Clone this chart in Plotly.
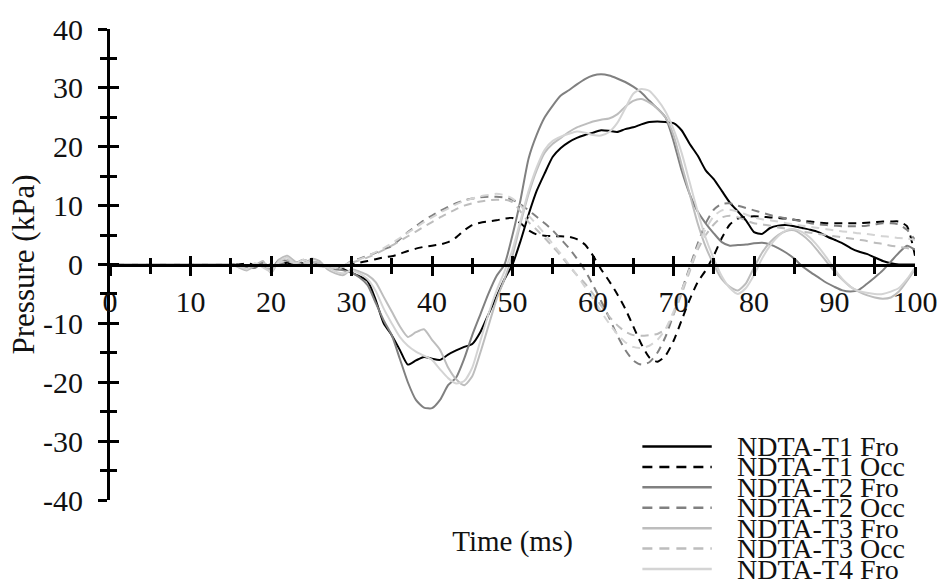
import plotly.graph_objects as go

# ---------------- data ----------------
time_ms = list(range(0, 101))

t1_fro = [0, 0, 0, 0, 0, 0, 0, 0, 0, 0, 0, 0, 0, 0, 0,
          0, -0.1, -0.3, 0, 0.2, -0.4, 0, 0.3, 0.1, 0.2, 0, -0.2, -0.3, -0.5, -0.8,
          -1.4, -2.0, -2.8, -6.0, -10.0, -12.0, -14.5, -17.0, -16.3, -15.7,
          -16.0, -16.2, -15.3, -14.6, -14.0, -13.5, -11.5, -8.5, -5.5, -2.5,
          0, 4, 8.5, 12.5, 15.5, 18.3, 19.8, 20.8, 21.5, 22,
          22.4, 22.8, 22.7, 22.5, 23, 23.3, 23.8, 24.2, 24.3, 24.2,
          24, 22.8, 20.5, 18.5, 16, 14.5, 12.5, 10.5, 9, 7.5,
          5.5, 5.2, 6.2, 6.6, 6.7, 6.5, 6.2, 5.9, 5.5, 4.8,
          4.2, 3.6, 2.8, 2.2, 1.8, 1.2, 0.6, 0.2, 0, 0, 0]

t1_occ = [0, 0, 0, 0, 0, 0, 0, 0, 0, 0, 0, 0, 0, 0, 0,
          0, 0, 0.2, 0, -0.2, 0, 0.3, 0.2, 0, 0.1, 0, -0.2, -0.4, -0.6, -0.3,
          0, 0.3, 0.6, 0.9, 1.2, 1.4, 1.8, 2.3, 2.7, 3.0,
          3.2, 3.4, 3.8, 4.6, 5.8, 6.7, 7.1, 7.3, 7.5, 7.8,
          7.9, 7.0, 5.8, 5.1, 4.9, 4.8, 4.8, 4.7, 4.3, 3.4,
          1.5, -0.8, -2.8, -5.0, -7.5, -10.5, -13.5, -15.8, -16.5, -15.5,
          -13.0, -9.5, -6.0, -3.0, -1.0, 1.5, 4.5, 6.8, 7.8, 8.1,
          8.2, 8.1, 8.0, 7.9, 7.8, 7.6, 7.4, 7.3, 7.1, 7.0,
          7.0, 7.0, 7.0, 7.0, 7.1, 7.2, 7.3, 7.3, 7.3, 6.5, 1.5]

t2_fro = [0, 0, 0, 0, 0, 0, 0, 0, 0, 0, 0, 0, 0, 0, 0,
          0.1, -0.2, -0.4, -0.6, 0.3, -0.8, 0.8, 0.6, 0.2, 0.8, 0.3, 0, -0.3, -0.8, -1.0,
          -1.4, -2.2, -3.5, -6.5, -9.5, -12.0, -16.0, -20.0, -23.0, -24.3,
          -24.4, -23.0, -20.5, -19.2, -16.0, -12.0, -8.5, -5.0, -2.0, 0,
          5, 11, 18, 22, 25, 27, 28.7, 29.6, 30.6, 31.5,
          32.1, 32.3, 32.1, 31.6, 31.0, 30.2, 29.2, 27.8, 26.5, 25.0,
          21, 16, 12, 9, 7, 5.3, 3.8, 3.2, 3.3, 3.4,
          3.6, 3.7, 3.4, 2.8, 2.0, 1.0, -0.3, -1.3, -2.2, -3.1,
          -3.8, -4.4, -4.6, -4.3, -3.3, -2.2, -1.0, 0.5, 2.0, 3.2, 2.5]

t2_occ = [0, 0, 0, 0, 0, 0, 0, 0, 0, 0, 0, 0, 0, 0, 0,
          0, -0.1, -0.3, -0.2, -0.4, -0.6, 0, 0.4, 0.3, 0.5, 0.2, 0, -0.4, -0.8, -0.3,
          0.6, 1.0, 1.5, 2.0, 2.6, 3.1, 4.3, 5.5, 6.5, 7.5,
          8.3, 9.1, 9.8, 10.4, 10.9, 11.2, 11.4, 11.5, 11.5, 11.4,
          11.0, 10.2, 9.2, 8.1, 7.0, 5.8, 4.3, 2.8, 1.0, -1.0,
          -3.5, -6.2, -9.0, -12.0, -14.5, -16.3, -17.0, -16.6, -15.0, -12.3,
          -8.5, -4.5, -0.5, 3.5, 7.0, 9.3, 10.3, 10.4, 10.0, 9.6,
          9.2, 8.8, 8.4, 8.1, 7.8, 7.6, 7.3, 7.0, 6.8, 6.7,
          6.6, 6.5, 6.5, 6.5, 6.6, 6.8, 7.0, 7.0, 6.8, 5.9, 4.2]

t3_fro = [0, 0, 0, 0, 0, 0, 0, 0, 0, 0, 0, 0, 0, 0, 0,
          0, -0.5, -1.0, -0.2, 0.6, -1.5, 0.8, 1.5, 0.5, -0.2, 1.0, 0.6, -0.8, -1.5, -1.8,
          -0.8, -1.2, -1.8, -3.0, -5.5, -8.0, -10.5, -12.3, -11.5, -11.0,
          -12.8, -14.5, -17.5, -19.5, -20.5, -19.0, -15.0, -10.5, -6.0, -2.5,
          1.5, 7, 12, 16, 19, 20.5, 21.5, 22.5, 23.3, 23.8,
          24.3, 24.6, 24.8, 25.5, 26.8, 27.8, 28.1, 27.5, 26.5, 25.0,
          22, 17, 12, 7, 3, 0, -2.5, -3.8, -4.4, -3.2,
          -0.5, 2.0, 3.8, 5.0, 5.7, 5.8, 5.0, 3.8, 2.2, 0.5,
          -1.2, -2.6, -3.8, -4.6, -5.2, -5.6, -5.8, -5.6, -4.6, -2.8, -0.8]

t3_occ = [0, 0, 0, 0, 0, 0, 0, 0, 0, 0, 0, 0, 0, 0, 0,
          0, -0.2, -0.5, 0, 0.3, -0.7, 0.4, 0.8, 0.3, 0, 0.5, 0.3, -0.4, -0.9, -0.4,
          0.3, 0.7, 1.2, 1.8, 2.5, 3.2, 4.0, 4.8, 5.6, 6.4,
          7.2, 8.0, 8.7, 9.4, 10.0, 10.4, 10.7, 10.9, 11.0, 11.0,
          10.6, 9.0, 7.2, 5.9, 4.5, 3.0, 1.5, -0.2, -1.8, -3.2,
          -5.0, -7.0, -8.8, -10.3, -11.4, -12.0, -12.1, -12.0, -11.8, -11.0,
          -8.5, -5.0, -1.2, 2.5, 5.0, 6.8, 8.0, 8.3, 8.0, 7.5,
          7.0, 6.8, 6.6, 6.3, 6.1, 5.9, 5.6, 5.4, 5.2, 5.0,
          4.8, 4.6, 4.4, 4.2, 4.0, 3.7, 3.5, 3.2, 3.0, 2.8, 2.5]

t4_fro = [0, 0, 0, 0, 0, 0, 0, 0, 0, 0, 0, 0, 0, 0, 0,
          0, -0.3, -0.8, 0.2, -0.5, -1.2, 0.5, 1.2, 0.2, 0.8, 0.2, -0.3, -0.5, -1.2, -1.5,
          -1.0, -1.5, -2.5, -4.5, -7.5, -10.0, -12.3, -13.8, -14.8, -15.5,
          -16.2, -17.8, -19.3, -20.2, -19.8, -17.5, -13.0, -8.5, -4.5, -1.2,
          2.5, 7.5, 12.5, 16.5, 19.5, 21.0, 21.7, 22.2, 22.6, 22.4,
          22.0, 21.9, 22.5, 24.0, 26.5, 29.0, 29.8, 29.5, 28.0, 26.0,
          23, 19, 14, 9, 4.5, 1.0, -2.0, -4.0, -5.0, -4.0,
          -1.8, 1.0, 3.2, 4.8, 5.8, 6.0, 5.5, 4.5, 3.0, 1.2,
          -0.8, -2.5, -3.8, -4.5, -4.8, -5.0, -5.0, -4.6, -4.0, -2.5, -0.5]

t4_occ = [0, 0, 0, 0, 0, 0, 0, 0, 0, 0, 0, 0, 0, 0, 0,
          0, -0.1, -0.3, 0.1, -0.2, -0.5, 0.3, 0.6, 0.2, 0.4, 0.1, -0.1, -0.3, -0.6, -0.2,
          0.5, 0.9, 1.4, 2.1, 2.8, 3.6, 4.5, 5.4, 6.3, 7.2,
          8.0, 8.8, 9.5, 10.2, 10.8, 11.2, 11.6, 11.8, 12.0, 11.8,
          11.2, 10.0, 8.3, 6.8, 5.2, 3.5, 1.8, 0, -1.8, -3.8,
          -5.8, -8.0, -10.0, -11.8, -13.2, -14.0, -14.2, -13.8, -12.8, -11.0,
          -8.0, -4.5, -0.8, 3.0, 6.0, 8.2, 9.2, 9.3, 9.0, 8.5,
          8.0, 7.7, 7.5, 7.3, 7.0, 6.8, 6.6, 6.4, 6.2, 6.0,
          5.8, 5.6, 5.5, 5.3, 5.2, 5.0, 4.8, 4.7, 4.5, 4.4, 4.2]

series_names = ["NDTA-T1 Fro", "NDTA-T1 Occ", "NDTA-T2 Fro", "NDTA-T2 Occ",
                "NDTA-T3 Fro", "NDTA-T3 Occ", "NDTA-T4 Fro", "NDTA-T4 Occ"]
series_values = [t1_fro, t1_occ, t2_fro, t2_occ, t3_fro, t3_occ, t4_fro, t4_occ]

y_ticks = [-40, -30, -20, -10, 0, 10, 20, 30, 40]
x_ticks = [0, 10, 20, 30, 40, 50, 60, 70, 80, 90, 100]

# ---------------- styles ----------------
colors = ["#000000", "#000000", "#808080", "#808080",
          "#bdbdbd", "#bdbdbd", "#d4d4d4", "#d4d4d4"]
dashes = ["solid", "8px,6px", "solid", "8px,6px",
          "solid", "8px,6px", "solid", "8px,6px"]
legend_visible = [True, True, True, True, True, True, True, False]
# the last (unlisted) series is drawn on the overlaid axis pair that carries the inner tick halves
axis_pair = [("x", "y")] * 7 + [("x2", "y2")]

FONT = "Liberation Serif, Times New Roman, DejaVu Serif, serif"
W, H = 950, 586
ML, MR, MT, MB = 110, 28, 25, 86
PW, PH = W - ML - MR, H - MT - MB


def px_x(px):
    return (px - ML) / PW


def px_y(py):
    return (H - MB - py) / PH


fig = go.Figure()
for name, vals, col, dsh, (xa, ya) in zip(series_names, series_values, colors, dashes, axis_pair):
    fig.add_trace(go.Scatter(
        x=time_ms, y=vals, mode="lines", name=name, showlegend=False,
        xaxis=xa, yaxis=ya,
        line=dict(color=col, width=2, dash=dsh, shape="spline", smoothing=0.6),
    ))

# manual legend (tight rows as in the reference)
row0, row_gap = 446, 20.6
k = 0
for name, col, dsh, vis in zip(series_names, colors, dashes, legend_visible):
    if not vis:
        continue
    yy = px_y(row0 + k * row_gap)
    fig.add_shape(type="line", xref="paper", yref="paper",
                  x0=px_x(647), x1=px_x(717), y0=yy, y1=yy,
                  line=dict(color=col, width=2.5, dash="10px,7px" if dsh != "solid" else "solid"))
    fig.add_annotation(xref="paper", yref="paper", x=px_x(740), y=yy,
                       xanchor="left", yanchor="middle", text=name,
                       showarrow=False, font=dict(family=FONT, size=28, color="#111"))
    k += 1

tick_common = dict(tickcolor="black", tickwidth=3)
fig.update_layout(
    width=W, height=H,
    margin=dict(l=ML, r=MR, t=MT, b=MB),
    paper_bgcolor="white", plot_bgcolor="white",
    showlegend=False,
    xaxis=dict(
        range=[0, 100], anchor="free", position=0.5,
        showline=True, linecolor="black", linewidth=3,
        showgrid=False, zeroline=False,
        tickmode="array", tickvals=x_ticks, ticktext=[str(v) for v in x_ticks],
        ticks="outside", ticklen=9, ticklabelstandoff=0,
        minor=dict(dtick=5, tick0=0, ticks="outside", ticklen=7, tickwidth=3, tickcolor="black"),
        tickfont=dict(family=FONT, size=30, color="#111"),
        title=dict(text="Time (ms)", font=dict(family=FONT, size=29, color="#111"), standoff=214),
        **tick_common,
    ),
    xaxis2=dict(
        range=[0, 100], overlaying="x", anchor="free", position=0.5,
        showline=False, showgrid=False, zeroline=False, showticklabels=False,
        tickmode="array", tickvals=x_ticks,
        ticks="inside", ticklen=9,
        minor=dict(dtick=5, tick0=0, ticks="inside", ticklen=7, tickwidth=3, tickcolor="black"),
        **tick_common,
    ),
    yaxis=dict(
        range=[-40, 40], showline=True, linecolor="black", linewidth=3,
        showgrid=False, zeroline=False,
        tickmode="array", tickvals=y_ticks, ticktext=[str(v) for v in y_ticks],
        ticks="outside", ticklen=9, ticklabelstandoff=9,
        minor=dict(dtick=5, tick0=0, ticks="outside", ticklen=7, tickwidth=3, tickcolor="black"),
        tickfont=dict(family=FONT, size=30, color="#111"),
        title=dict(text="Pressure (kPa)", font=dict(family=FONT, size=31, color="#111"), standoff=0),
        **tick_common,
    ),
    yaxis2=dict(
        range=[-40, 40], overlaying="y", anchor="x", side="left",
        showline=False, showgrid=False, zeroline=False, showticklabels=False,
        tickmode="array", tickvals=y_ticks,
        ticks="inside", ticklen=9,
        minor=dict(dtick=5, tick0=0, ticks="inside", ticklen=7, tickwidth=3, tickcolor="black"),
        **tick_common,
    ),
)

fig.write_html("out.html")
